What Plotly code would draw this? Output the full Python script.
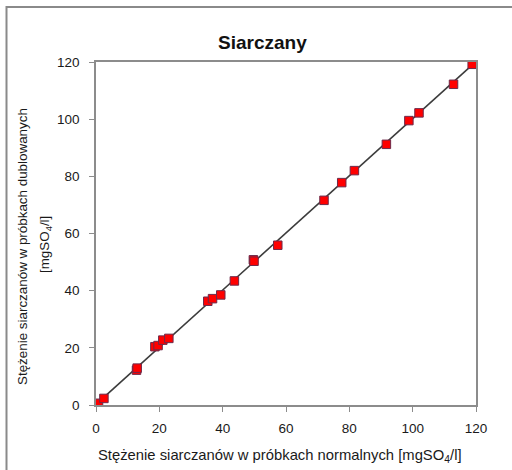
import plotly.graph_objects as go

# Sulphate concentrations: normal samples (x) vs duplicate samples (y), mgSO4/l
normal = [0.2, 0.8, 2.5, 12.8, 13.0, 18.6, 19.6, 21.1, 23.0, 35.3, 36.8, 39.4,
          43.7, 49.7, 49.9, 57.4, 72.0, 77.6, 81.6, 91.7, 98.8, 102.0, 112.9, 118.8]
duplicate = [0.1, 0.6, 2.3, 12.2, 12.9, 20.4, 20.8, 22.7, 23.3, 36.3, 37.2, 38.5,
             43.4, 50.8, 50.3, 55.9, 71.6, 77.8, 82.0, 91.2, 99.5, 102.2, 112.2, 119.2]

# Fitted line end points
trend_x = [0.0, 119.0]
trend_y = [0.2, 119.2]

tick_vals = [0, 20, 40, 60, 80, 100, 120]

FONT = "Liberation Sans, Arial, sans-serif"
AXIS_GREY = "#8c8c8c"

fig = go.Figure()
fig.add_trace(go.Scatter(
    x=trend_x, y=trend_y, mode="lines",
    line=dict(color="#3c3c3c", width=1.6),
    hoverinfo="skip", showlegend=False,
))
fig.add_trace(go.Scatter(
    x=normal, y=duplicate, mode="markers",
    marker=dict(symbol="square", size=8.5, color="#ff0000",
                line=dict(color="#6e2a4a", width=1)),
    showlegend=False,
))

axis_common = dict(
    range=[0, 120], tickvals=tick_vals, showgrid=False, zeroline=False,
    showline=True, linecolor=AXIS_GREY, linewidth=1.5, mirror=True,
    ticks="outside", ticklen=5, tickcolor=AXIS_GREY, tickwidth=1,
    tickfont=dict(family=FONT, size=13.5, color="#1a1a1a"),
)

fig.update_layout(
    width=512, height=470,
    margin=dict(l=96, r=36, t=62, b=65),
    paper_bgcolor="white", plot_bgcolor="white",
    xaxis=dict(**axis_common, ticklabelstandoff=5),
    yaxis=dict(**axis_common, ticklabelstandoff=7),
    font=dict(family=FONT, color="#1a1a1a"),
    shapes=[dict(
        type="rect", xref="paper", yref="paper",
        x0=(6.5 - 96) / 380, x1=(600 - 96) / 380,
        y0=(405 - 560) / 343, y1=1 + (62 - 7) / 343,
        line=dict(color="#8a8a8a", width=2), fillcolor="rgba(0,0,0,0)",
        layer="below",
    )],
    annotations=[
        dict(text="<b>Siarczany</b>", xref="paper", yref="paper",
             x=(262 - 96) / 380, y=1 + (62 - 42) / 343,
             xanchor="center", yanchor="middle", showarrow=False,
             font=dict(family=FONT, size=19, color="#111111")),
        dict(text="Stężenie siarczanów w próbkach normalnych [mgSO<sub>4</sub>/l]",
             xref="paper", yref="paper",
             x=(280 - 96) / 380, y=(405 - 456) / 343,
             xanchor="center", yanchor="middle", showarrow=False,
             font=dict(family=FONT, size=14.8, color="#1a1a1a")),
        dict(text="Stężenie siarczanów w próbkach dublowanych",
             xref="paper", yref="paper",
             x=(22 - 96) / 380, y=(405 - 247) / 343, textangle=-90,
             xanchor="center", yanchor="middle", showarrow=False,
             font=dict(family=FONT, size=13.4, color="#1a1a1a")),
        dict(text="[mgSO<sub>4</sub>/l]",
             xref="paper", yref="paper",
             x=(45 - 96) / 380, y=(405 - 245) / 343, textangle=-90,
             xanchor="center", yanchor="middle", showarrow=False,
             font=dict(family=FONT, size=13.4, color="#1a1a1a")),
        dict(text="(siarczany)",
             xref="paper", yref="paper",
             x=(111 - 96) / 380, y=1 + (62 - 2) / 343,
             xanchor="center", yanchor="bottom", showarrow=False,
             font=dict(family=FONT, size=14, color="#777777")),
    ],
)

fig.write_html("out.html")
